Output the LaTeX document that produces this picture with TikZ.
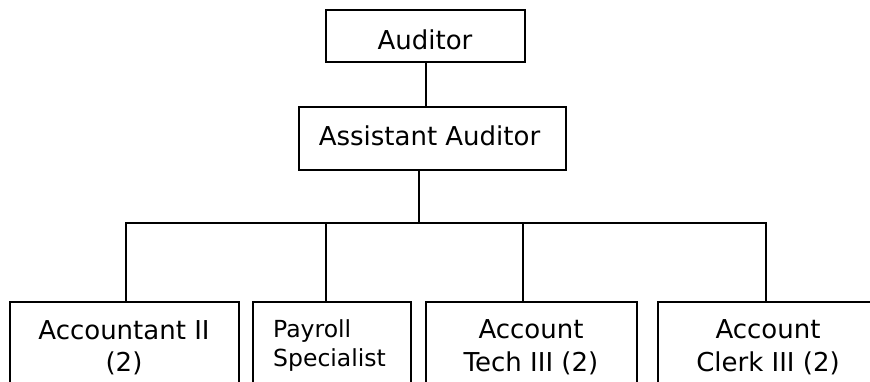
\documentclass[tikz,border=0pt]{standalone}
\usepackage{fontspec}
\setmainfont{DejaVu Sans}
\begin{document}
\begin{tikzpicture}[x=1pt,y=-1pt,
  box/.style={draw, line width=1.6pt, inner sep=0pt},
  main/.style={font=\fontsize{26}{32.7}\selectfont, inner sep=0pt, align=center},
  small/.style={font=\fontsize{23.5}{29.4}\selectfont, inner sep=0pt, align=left},
  link/.style={line width=1.6pt}]
\useasboundingbox (0,0) rectangle (870,381);
\clip (0,0) rectangle (870,381);
% top boxes
\node[box, minimum width=199pt, minimum height=52pt] (aud) at (425.5,36) {};
\node[main, anchor=base] (audt) at (425,49) {Auditor};
\node[box, minimum width=267pt, minimum height=63pt] (asst) at (432.5,138.5) {};
\node[main, anchor=base] (asstt) at (429.5,145.7) {Assistant Auditor};
% bottom boxes
\node[box, anchor=north, minimum width=229pt, minimum height=110pt] (acc) at (124.5,301) {};
\node[box, anchor=north, minimum width=158pt, minimum height=110pt] (pay) at (332,301) {};
\node[box, anchor=north, minimum width=211pt, minimum height=110pt] (tech) at (531.5,301) {};
\node[box, anchor=north, minimum width=220pt, minimum height=110pt] (clerk) at (768,301) {};
\node[main, anchor=base] (acct) at (124,371.7) {Accountant II\\(2)};
\node[small, anchor=base west] (payt) at (273,366.7) {Payroll\\Specialist};
\node[main, anchor=base] (techt) at (531,371.5) {Account\\Tech III (2)};
\node[main, anchor=base] (clerkt) at (768,371.5) {Account\\Clerk III (2)};
% connectors
\coordinate (top) at (426,62);
\coordinate (bus) at (419,223);
\coordinate (d1) at (126,223);
\coordinate (d2) at (326,223);
\coordinate (d3) at (523,223);
\coordinate (d4) at (766,223);
\draw[link] (top |- aud.south) -- (top |- asst.north);
\draw[link] (asst.south -| bus) -- (bus);
\draw[link] (d1 |- acc.north) -- (d1) -- (d4) -- (d4 |- clerk.north);
\draw[link] (d2) -- (d2 |- pay.north);
\draw[link] (d3) -- (d3 |- tech.north);
\end{tikzpicture}
\end{document}
